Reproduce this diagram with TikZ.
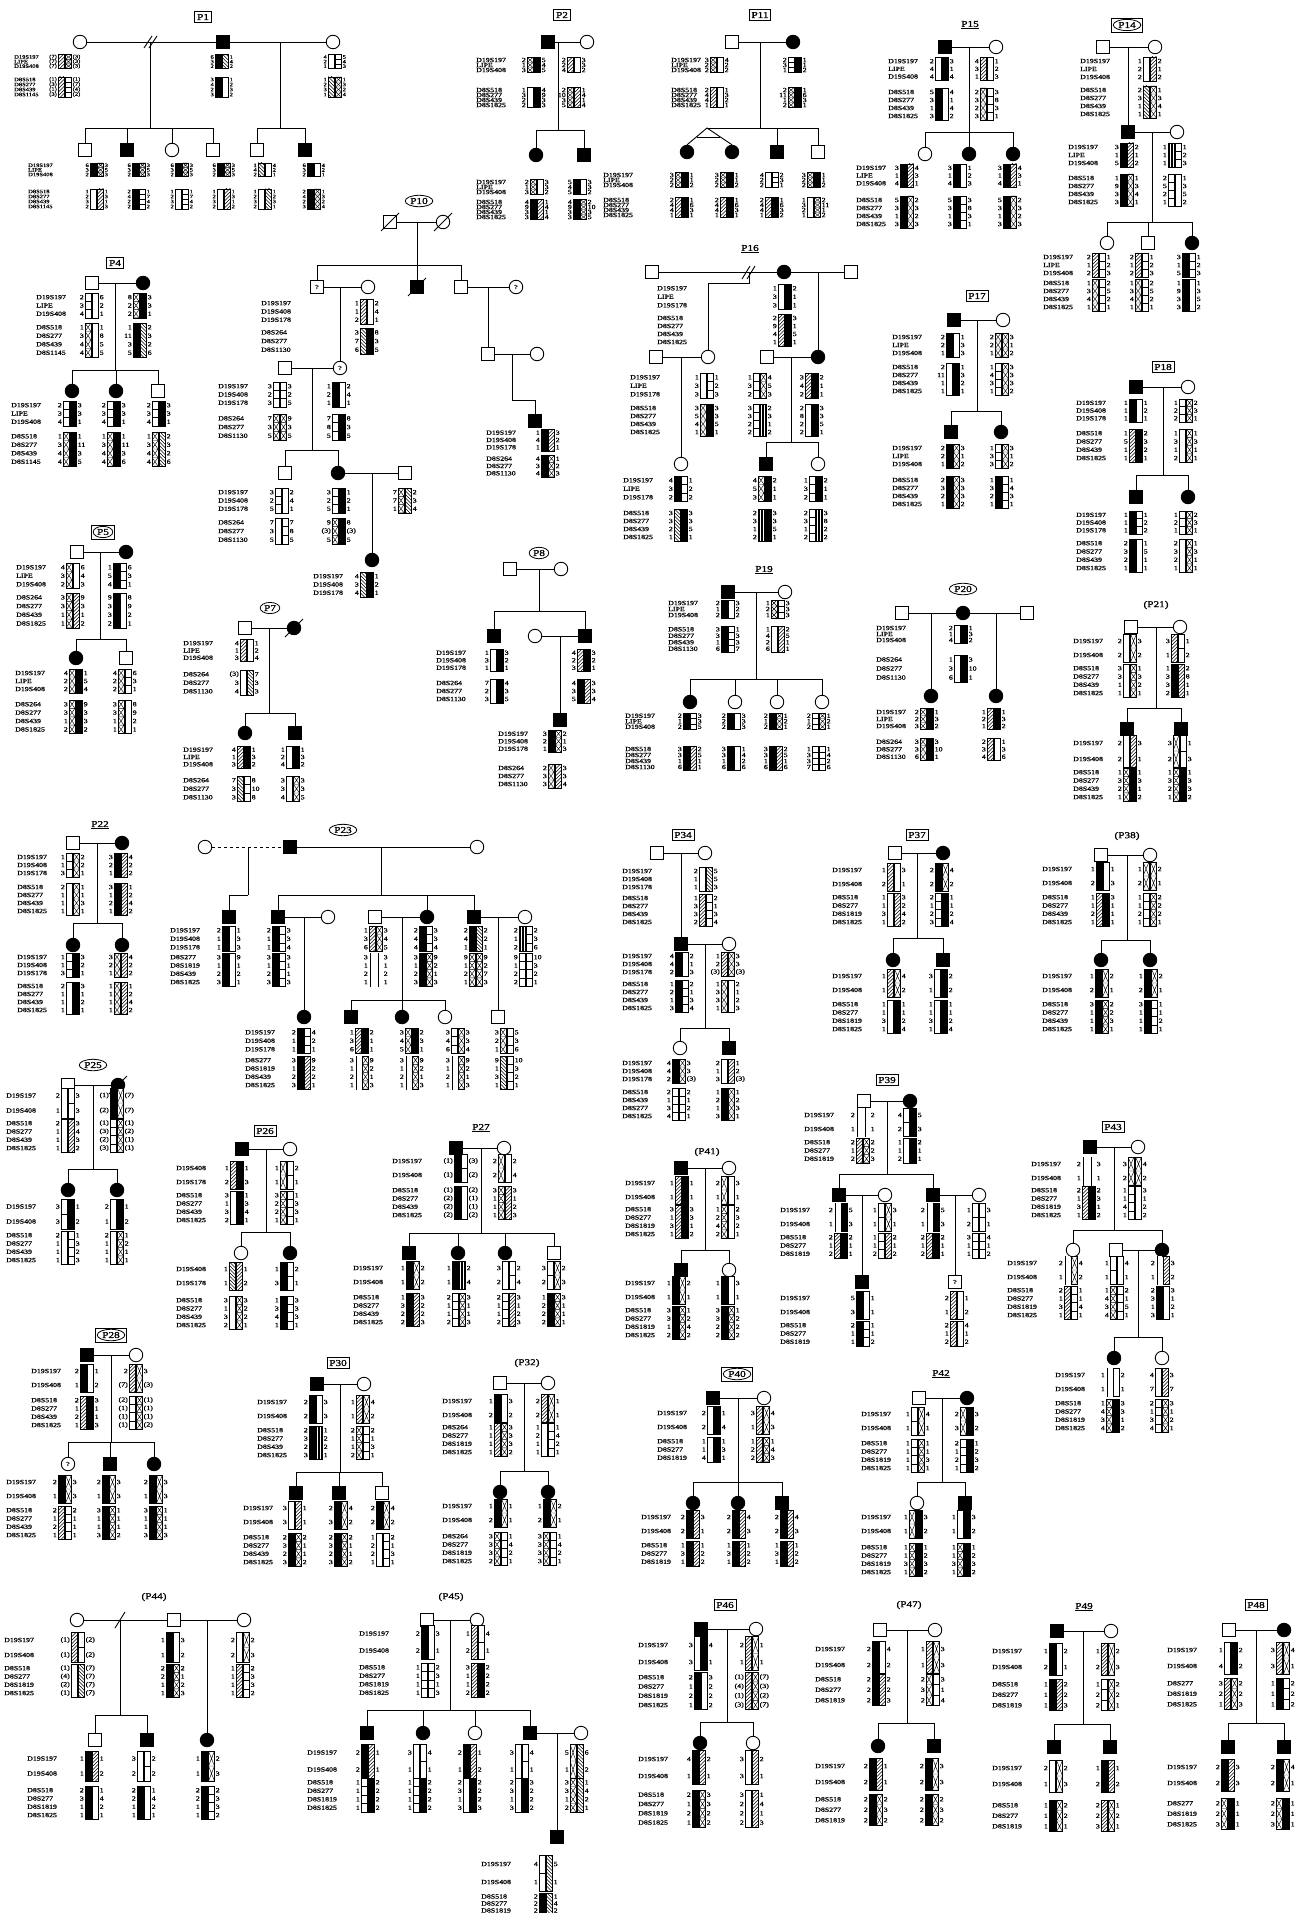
\documentclass[tikz,border=0pt]{standalone}
\usepackage{fontspec}
\setmainfont{Liberation Serif}
\newfontfamily\lf[FakeStretch=1.25,FakeBold=1.2]{Liberation Serif}
\usetikzlibrary{shapes.geometric,fit}
\def\bw{6}\def\bg{1.5}\def\ra{8}\def\rb{8}\def\rh{8}\def\nr{1}
\def\mA{D19S197,LIPE,D19S408}
\def\mAb{D19S197,LIPE,D19S178}
\def\mAc{D19S197,D19S408,D19S178}
\def\mAd{D19S197,D19S408}
\def\mAe{D19S408,D19S178}
\def\mB{D8S518,D8S277,D8S439,D8S1145}
\def\mC{D8S518,D8S277,D8S439,D8S1825}
\def\mD{D8S264,D8S277,D8S439,D8S1825}
\def\mE{D8S264,D8S277,D8S1130}
\def\mF{D8S518,D8S277,D8S1819,D8S1825}
\def\mG{D8S518,D8S277,D8S1819}
\def\mH{D8S277,D8S1819,D8S439,D8S1825}
\def\mI{D8S518,D8S439,D8S277,D8S1825}
\def\mJ{D8S264,D8S277,D8S1819,D8S1825}
\def\mK{D8S277,D8S1819,D8S1825}
\def\mL{D8S518,D8S277,D8S439,D8S1130}
\tikzset{
 nm/.style={font=\lf\fontsize{6.3}{6.3}\selectfont,inner sep=0pt},
 nms/.style={font=\lf\fontsize{5.2}{5.2}\selectfont,inner sep=0pt},
 ln/.style={line width=.9pt},
 ma/.style={draw,line width=.9pt,fill=white,inner sep=0pt},
 male/.style={ma,rectangle,minimum size=12.5pt},
 fem/.style={ma,circle,minimum size=13.5pt},
 aff/.style={fill=black},
 qm/.style={font=\lf\fontsize{6}{6}\selectfont},
 lbx/.style={draw,line width=.8pt,inner sep=2.2pt,font=\lf\fontsize{9}{9}\selectfont},
 lov/.style={ellipse,draw,line width=.8pt,inner sep=1pt,font=\lf\fontsize{9}{9}\selectfont},
 lpl/.style={inner sep=1pt,font=\lf\fontsize{9}{9}\selectfont},
 bar/.style={draw,line width=.6pt,fill=white},
 stB/.style={bar,fill=black},
 stW/.style={bar},
 stH/.style={bar,path picture={\foreach \k in {-8,-4.5,...,70}{\draw[line width=.45pt] ([shift={(-1,\k)}]path picture bounding box.north west) -- ++(10,-10);}}},
 stK/.style={bar,path picture={\foreach \k in {-12,-8.5,...,70}{\draw[line width=.45pt] ([shift={(-1,\k)}]path picture bounding box.north west) -- ++(10,10);}}},
 stX/.style={bar,path picture={\foreach \k in {0,...,7}{\draw[line width=.45pt] ([shift={(0,\k*\rh)}]path picture bounding box.north west) -- ++(\bw,\rh) ++(0,-\rh) -- ++(-\bw,\rh) ++(0,-\rh) -- ++(\bw,0);}}},
 stE/.style={bar,path picture={\foreach \k in {1,...,7}{\draw[line width=.45pt] ([shift={(0,\k*\rh)}]path picture bounding box.north west) -- ++(\bw,0);}}},
 stV/.style={bar,path picture={\foreach \k in {1.5,3,4.5}{\draw[line width=.35pt] ([shift={(\k,0)}]path picture bounding box.north west) -- ++(0,80);}}},
 stL/.style={draw=none,fill=white,path picture={\draw[line width=.9pt] ([shift={(1.5,0)}]path picture bounding box.north west) -- ++(0,80);}},
}
\def\nmst{nm}
\newcommand\hp[5]{%
 \foreach \n [count=\i] in {#4} {\node[\nmst,anchor=east] at ({#1-1},{#2+(\i-0.5)*\rh}) {\n}; \xdef\nr{\i}}
 \foreach \n [count=\i] in {#5} {\node[\nmst,anchor=west] at ({#1+2*\bw+\bg+1},{#2+(\i-0.5)*\rh}) {\n};}
 \dobars{#1}{#2}#3\relax}
\def\dobars#1#2#3#4\relax{%
 \path[st#3] (#1,#2) rectangle ++(\bw,{\nr*\rh});
 \path[st#4] ({#1+\bw+\bg},#2) rectangle ++(\bw,{\nr*\rh});}
\newcommand\Hi[9]{\def\rh{\ra}\hp{#1}{#2}{#4}{#5}{#6}\def\rh{\rb}\hp{#1}{#3}{#7}{#8}{#9}}
\newcommand\Ho[5]{\def\rh{\ra}\hp{#1}{#2}{#3}{#4}{#5}}
\newcommand\Mk[5]{%
 \def\rh{\ra}\foreach \n [count=\i] in #4 {\node[\nmst,anchor=west] at ({#1},{#2+(\i-0.5)*\rh}) {\n};}
 \def\rh{\rb}\foreach \n [count=\i] in #5 {\node[\nmst,anchor=west] at ({#1},{#3+(\i-0.5)*\rh}) {\n};}}
\newcommand\Mo[3]{\def\rh{\ra}\foreach \n [count=\i] in #3 {\node[\nmst,anchor=west] at ({#1},{#2+(\i-0.5)*\rh}) {\n};}}
\newcommand\sib[4]{\draw[ln] (#1,0 |- #2) -- (#1,#3);
 \foreach \c in {#4} {\draw[ln] (#1,#3) -| (\c.north);}}
\newcommand\dead[1]{\draw[ln] ([shift={(-9,9)}]#1.center) -- ([shift={(9,-9)}]#1.center);}
\begin{document}
\begin{tikzpicture}[x=1pt,y=-1pt]
\fill[white] (0,0) rectangle (1306,1913);
\useasboundingbox (0,0) rectangle (1306,1913);

%% ================= P1
\def\nmst{nms}
\def\ra{4.6}\def\rb{5}
\node[lbx] (L1) at (203,17) {P1};
\node[fem] (p1a) at (80,42) {}; \node[male,aff] (p1b) at (223,42) {}; \node[fem] (p1c) at (333,42) {};
\draw[ln] (p1a) -- (p1b) -- (p1c);
\draw[ln] (144,48) -- (152,36) (149,48) -- (157,36);
\Mk{14}{54.7}{77}{\mA}{\mB}
\Hi{58}{54.7}{77}{HX}{(7),(7),(7)}{(3),(3),(3)}{HE}{(1),(3),(1),(3)}{(1),(7),(4),(2)}
\Hi{215}{54.7}{77}{BK}{6,3,2}{1,4,2}{BW}{3,4,2,3}{1,2,3,2}
\Hi{328}{54.7}{77}{WE}{4,2,1}{5,4,3}{KX}{1,2,3,1}{1,3,2,4}
\node[male] (p1d) at (85,150) {}; \node[male,aff] (p1e) at (127,150) {}; \node[fem] (p1f) at (172,150) {};
\node[male] (p1g) at (213,150) {}; \node[male] (p1h) at (257,150) {}; \node[male,aff] (p1i) at (305,150) {};
\sib{150}{p1b}{128}{p1d,p1e,p1f,p1g}
\sib{280}{p1b}{128}{p1h,p1i}
\Mk{28}{163}{189}{\mA}{\mB}
\Hi{90}{163}{189}{BX}{6,3,2}{3,5,3}{WH}{1,2,3,2}{1,3,1,3}
\Hi{132}{163}{189}{BX}{6,3,2}{3,5,3}{BE}{2,4,2,2}{1,7,4,2}
\Hi{175}{163}{189}{BX}{6,3,2}{3,5,3}{WE}{1,2,3,2}{1,7,4,2}
\Hi{217}{163}{189}{BX}{6,3,2}{3,5,3}{WH}{1,2,3,2}{1,3,1,2}
\Hi{258}{163}{189}{KW}{1,4,2}{4,2,1}{WK}{1,2,3,2}{1,2,3,1}
\Hi{307}{163}{189}{BW}{6,3,2}{4,2,1}{BX}{2,4,2,3}{1,3,2,4}
\def\nmst{nm}

%% ================= P2
\def\ra{5}\def\rb{5}
\node[lbx] (L2) at (562,15) {P2};
\node[male,aff] (p2a) at (548,42) {}; \node[fem] (p2b) at (587,42) {};
\draw[ln] (p2a) -- (p2b);
\Mk{476}{57.5}{87.5}{\mA}{\mC}
\Hi{527}{57.5}{87.5}{XB}{2,1,3}{5,4,5}{WB}{1,3,2,2}{4,9,3,3}
\Hi{567}{57.5}{87.5}{HW}{2,2,4}{3,3,2}{XH}{2,10,3,5}{1,4,1,4}
\node[fem,aff] (p2c) at (536,155) {}; \node[male,aff] (p2d) at (584,155) {};
\sib{558}{p2a}{130}{p2c,p2d}
\Mk{476}{179.5}{199.5}{\mA}{\mC}
\Hi{530}{179.5}{199.5}{XW}{2,1,3}{3,3,2}{BH}{4,9,3,3}{1,4,1,4}
\Hi{573}{179.5}{199.5}{BW}{5,4,5}{3,3,2}{BX}{4,9,3,3}{2,10,3,5}

%% ================= P11
\node[lbx] (L11) at (760,15) {P11};
\node[male] (p11a) at (732,42) {}; \node[fem,aff] (p11b) at (793,42) {};
\draw[ln] (p11a) -- (p11b);
\Mk{671}{57.5}{87.5}{\mA}{\mC}
\Hi{710}{57.5}{87.5}{XW}{3,2,2}{4,2,2}{HW}{2,4,4,1}{1,3,2,1}
\Hi{788}{57.5}{87.5}{EB}{2,3,1}{1,1,2}{XB}{2,11,1,2}{1,6,3,1}
\node[fem,aff] (p11c) at (687,152) {}; \node[fem,aff] (p11d) at (732,152) {};
\node[male,aff] (p11e) at (777,152) {}; \node[male] (p11f) at (818,152) {};
\sib{760}{p11a}{128}{p11e,p11f}
\draw[ln] (760,128) -- (707,128);
\draw[ln] (p11c.north) -- (707,128) -- (p11d.north);
\draw[ln] (697,137) -- (720,137);
\Mk{603}{172.5}{197.5}{\mA}{\mC}
\Hi{675}{172.5}{197.5}{XB}{3,2,2}{1,1,2}{HB}{2,4,4,1}{1,6,3,1}
\Hi{720}{172.5}{197.5}{XB}{3,2,2}{1,1,2}{HB}{2,4,4,1}{1,6,3,1}
\Hi{765}{172.5}{197.5}{WE}{4,2,2}{2,3,1}{HB}{2,4,4,1}{1,6,3,2}
\Hi{807}{172.5}{197.5}{XB}{3,2,2}{1,1,2}{WX}{1,3,2,1}{2,11,1,2}

%% ================= P15
\def\ra{7.7}\def\rb{8}
\node[lpl] (L15) at (970,25) {\underline{P15}};
\node[male,aff] (p15a) at (945,47) {}; \node[fem] (p15b) at (996,47) {};
\draw[ln] (p15a) -- (p15b);
\Mk{888}{57.3}{88}{\mA}{\mC}
\Hi{935}{57.3}{88}{WB}{2,4,4}{3,1,4}{BW}{5,3,1,3}{4,1,4,2}
\Hi{980}{57.3}{88}{HW}{4,3,1}{1,2,3}{XE}{2,3,2,3}{3,8,3,1}
\node[fem] (p15c) at (925,154) {}; \node[fem,aff] (p15d) at (969,154) {}; \node[fem,aff] (p15e) at (1013,154) {};
\sib{969}{p15a}{132}{p15c,p15d,p15e}
\Mk{856}{164}{196}{\mA}{\mC}
\Hi{900}{164}{196}{BH}{3,1,4}{4,3,1}{BX}{5,3,1,3}{2,3,2,3}
\Hi{953}{164}{196}{BW}{3,1,4}{1,2,3}{BE}{5,3,1,3}{3,8,3,1}
\Hi{1003}{164}{196}{BH}{3,1,4}{4,3,1}{BX}{5,3,1,3}{2,3,2,3}

%% ================= P14
\def\ra{8}\def\rb{8}
\node[lov] (L14) at (1127,25) {P14}; \node[draw,line width=.8pt,fit=(L14),inner sep=1pt] (L14b) {};
\node[male] (p14a) at (1103,47) {}; \node[fem] (p14b) at (1155,47) {};
\draw[ln] (p14a) -- (p14b);
\Mk{1080}{57}{86}{\mA}{\mC}
\Hi{1143}{57}{86}{WH}{1,2,2}{2,1,2}{KX}{2,3,1,1}{1,3,4,1}
\node[male,aff] (p14c) at (1128,132) {}; \node[fem] (p14d) at (1177,132) {};
\draw[ln] (p14c) -- (p14d);
\sib{1128}{p14a}{120}{p14c}
\Mk{1068}{143}{174}{\mA}{\mC}
\Hi{1120}{143}{174}{BH}{3,1,5}{2,1,2}{BX}{1,9,3,3}{1,3,4,1}
\Hi{1168}{143}{174}{VE}{1,1,1}{1,2,3}{EW}{2,5,2,1}{1,3,5,2}
\node[fem] (p14e) at (1107,243) {}; \node[male] (p14f) at (1148,243) {}; \node[fem,aff] (p14g) at (1192,243) {};
\sib{1152}{p14c}{222}{p14e,p14f,p14g}
\Mk{1043}{253}{279}{\mA}{\mC}
\Hi{1092}{253}{279}{HE}{2,1,2}{1,2,3}{XE}{1,3,4,1}{2,5,2,1}
\Hi{1135}{253}{279}{HE}{2,1,2}{1,2,3}{XE}{1,3,4,1}{2,5,2,1}
\Hi{1182}{253}{279}{BE}{3,1,5}{1,2,3}{BW}{1,9,3,3}{1,3,5,2}

%% ================= P4
\def\ra{8.3}\def\rb{8.5}
\node[lbx] (L4) at (115,263) {P4};
\node[male] (p4a) at (92,283) {}; \node[fem,aff] (p4b) at (143,283) {};
\draw[ln] (p4a) -- (p4b);
\Mk{36}{293}{323}{\mA}{\mB}
\Hi{85}{293}{323}{EW}{2,3,4}{6,2,1}{XW}{1,3,4,4}{1,8,5,5}
\Hi{133}{293}{323}{XB}{8,2,2}{3,3,1}{BK}{1,11,3,5}{2,3,2,6}
\node[fem,aff] (p4c) at (72,391) {}; \node[fem,aff] (p4d) at (116,391) {}; \node[male] (p4e) at (158,391) {};
\sib{115}{p4a}{370}{p4c,p4d,p4e}
\Mk{11}{401}{432}{\mA}{\mB}
\Hi{63}{401}{432}{EB}{2,3,4}{3,3,1}{XB}{1,3,4,4}{1,11,3,5}
\Hi{107}{401}{432}{EB}{2,3,4}{3,3,1}{XB}{1,3,4,4}{1,11,3,6}
\Hi{152}{401}{432}{EB}{2,3,4}{3,3,1}{XK}{1,3,4,4}{2,3,2,6}

%% ================= P10
\def\ra{8.3}\def\rb{8.7}
\node[lov] (L10) at (419,201) {P10};
\node[male] (p10a) at (390,222) {}; \node[fem] (p10b) at (443,222) {};
\draw[ln] (p10a) -- (p10b); \dead{p10a} \dead{p10b}
\node[male,qm] (p10c) at (317,287) {?}; \node[male,aff] (p10d) at (417,287) {}; \dead{p10d}
\node[male] (p10e) at (461,287) {}; \node[fem] (p10f) at (368,287) {}; \node[fem,qm] (p10m) at (516,287) {?};
\sib{417}{p10a}{265}{p10c,p10d,p10e}
\draw[ln] (p10c) -- (p10f); \draw[ln] (p10e) -- (p10m);
\Mk{261}{299}{328}{\mAc}{\mE}
\Ho{360}{299}{HW}{1,1,2}{2,4,1}
\def\rh{\rb}\hp{360}{328}{KB}{3,7,6}{8,3,5}
\node[male] (p10h) at (285,368) {}; \node[fem,qm] (p10g) at (340,368) {?};
\draw[ln] (p10h) -- (p10g);
\sib{340}{p10c}{340}{p10g}
\Mk{218}{382}{414}{\mAc}{\mE}
\Hi{273}{382}{414}{EE}{3,2,3}{3,2,5}{XX}{7,3,5}{9,3,5}
\Hi{332}{382}{414}{BW}{1,2,1}{2,4,1}{EB}{7,8,5}{8,3,5}
\node[male] (p10i) at (285,473) {}; \node[fem,aff] (p10j) at (338,473) {}; \node[male] (p10k) at (405,473) {};
\sib{312}{p10h}{450}{p10i,p10j}
\draw[ln] (p10j) -- (p10k);
\Mk{218}{488}{518}{\mAc}{\mE}
\Hi{275}{488}{518}{EW}{3,2,5}{2,4,1}{WE}{7,3,5}{7,8,5}
\Hi{332}{488}{518}{EB}{3,2,5}{1,2,1}{XB}{9,(3),5}{8,(3),5}
\Ho{398}{488}{XK}{7,7,1}{2,3,4}
\node[fem,aff] (p10l) at (372,560) {};
\sib{372}{p10j}{540}{p10l}
\Mo{313}{572}{\mAc}
\Ho{360}{572}{KB}{4,3,4}{1,2,1}
\node[male] (p10n) at (488,354) {}; \node[fem] (p10o) at (537,354) {};
\draw[ln] (p10n) -- (p10o);
\sib{488}{p10e}{330}{p10n}
\node[male,aff] (p10p) at (535,421) {};
\sib{512}{p10n}{400}{p10p}
\def\ra{7.3}\def\rb{7.3}
\Mk{486}{429}{455}{\mAc}{\mE}
\Hi{541}{429}{455}{BH}{1,4,1}{3,2,1}{BX}{4,3,4}{1,2,3}

%% ================= P5
\def\ra{8.5}\def\rb{8.7}
\node[lov] (L5) at (103,532) {P5}; \node[draw,line width=.8pt,fit=(L5),inner sep=1pt] (L5b) {};
\node[male] (p5a) at (77,552) {}; \node[fem,aff] (p5b) at (126,552) {};
\draw[ln] (p5a) -- (p5b);
\Mk{16}{563}{593}{\mA}{\mD}
\Hi{66}{563}{593}{XW}{4,3,2}{6,4,3}{XH}{3,3,1,1}{9,3,1,2}
\Hi{113}{563}{593}{BE}{1,5,4}{6,3,1}{BW}{9,3,3,2}{8,9,2,1}
\node[fem,aff] (p5c) at (76,658) {}; \node[male] (p5d) at (126,658) {};
\sib{100}{p5a}{639}{p5c,p5d}
\def\ra{8}\def\rb{8.4}
\Mk{15}{669}{700}{\mA}{\mD}
\Hi{69}{669}{700}{XB}{4,2,2}{1,5,4}{XB}{3,3,1,2}{9,3,3,2}
\Hi{118}{669}{700}{XE}{4,2,2}{6,3,1}{XW}{3,3,1,1}{8,9,2,1}

%% ================= P7
\def\ra{7.3}\def\rb{8.5}
\node[lov] (L7) at (270,608) {P7};
\node[male] (p7a) at (245,628) {}; \node[fem,aff] (p7b) at (294,628) {}; \dead{p7b}
\draw[ln] (p7a) -- (p7b);
\Mk{183}{639.5}{670}{\mA}{\mE}
\Hi{240}{639.5}{670}{HW}{4,1,3}{1,2,4}{WK}{(3),3,4}{7,3,3}
\node[fem,aff] (p7c) at (245,733) {}; \node[male,aff] (p7d) at (295,733) {};
\sib{269}{p7a}{713}{p7c,p7d}
\Mk{183}{746}{776}{\mA}{\mE}
\Hi{237}{746}{776}{HB}{4,1,3}{1,3,2}{KE}{7,3,3}{8,10,8}
\Hi{286}{746}{776}{WB}{1,2,4}{1,3,2}{WX}{3,3,4}{3,3,5}

%% ================= P8
\def\ra{7.5}\def\rb{8}
\node[lov] (L8) at (539,553) {P8};
\node[male] (p8a) at (510,569) {}; \node[fem] (p8b) at (561,569) {};
\draw[ln] (p8a) -- (p8b);
\node[male,aff] (p8c) at (494,636) {}; \node[fem] (p8d) at (535,636) {}; \node[male,aff] (p8e) at (585,636) {};
\sib{539}{p8a}{611}{p8c,p8e}
\draw[ln] (p8d) -- (p8e);
\Mk{436}{649}{679}{\mAc}{\mE}
\Hi{490}{649}{679}{WB}{1,3,1}{3,2,1}{WB}{7,2,3}{4,3,5}
\Hi{577}{649}{679}{HB}{4,2,3}{3,2,1}{BH}{4,3,5}{3,3,4}
\node[male,aff] (p8f) at (560,720) {};
\sib{560}{p8d}{700}{p8f}
\Mk{498}{730}{764}{\mAc}{\mE}
\Hi{548}{730}{764}{BX}{3,2,1}{2,1,3}{XH}{2,3,3}{3,3,4}

%% ================= P16
\def\ra{8.5}\def\rb{8}
\node[lpl] (L16) at (750,249) {\underline{P16}};
\node[male] (p16a) at (652,272) {}; \node[fem,aff] (p16b) at (784,272) {}; \node[male] (p16c) at (851,272) {};
\draw[ln] (p16a) -- (p16b) -- (p16c);
\draw[ln] (742,279) -- (750,266) (747,279) -- (755,266);
\node[male] (p16d) at (656,357) {}; \node[fem] (p16e) at (708,357) {}; \node[male] (p16f) at (767,357) {}; \node[fem,aff] (p16g) at (818,357) {};
\draw[ln] (749,272) -- (749,283) -| (p16e.north);
\sib{818}{p16b}{330}{p16g}
\draw[ln] (p16d) -- (p16e); \draw[ln] (p16f) -- (p16g);
\Mk{657}{284}{314}{\mAb}{\mC}
\Hi{778}{284}{314}{WB}{1,3,3}{2,1,1}{HB}{2,9,4,1}{3,1,5,1}
\Mk{630}{373}{404}{\mAb}{\mC}
\Hi{700}{373}{404}{WE}{1,3,3}{1,2,3}{XB}{3,5,4,1}{3,3,5,1}
\Hi{753}{373}{404}{EX}{1,3,2}{4,5,3}{EV}{3,3,2,2}{2,3,1,2}
\Hi{805}{373}{404}{HB}{3,4,2}{2,1,1}{WB}{2,8,2,2}{3,3,5,1}
\node[fem] (p16h) at (681,464) {}; \node[male,aff] (p16i) at (766,464) {}; \node[fem] (p16j) at (818,464) {};
\sib{681}{p16d}{440}{p16h}
\sib{791}{p16f}{442}{p16i,p16j}
\Mk{623}{476}{509}{\mAb}{\mC}
\Hi{674}{476}{509}{BE}{4,3,2}{1,2,2}{KB}{3,3,2,1}{3,3,5,1}
\Hi{758}{476}{509}{XB}{4,5,3}{2,1,1}{VB}{2,3,1,2}{3,3,5,1}
\Hi{809}{476}{509}{EB}{1,3,2}{2,1,1}{EV}{2,3,1,2}{3,8,2,2}

%% ================= P17
\def\ra{8}\def\rb{8}
\node[lbx] (L17) at (977,296) {P17};
\node[male,aff] (p17a) at (954,320) {}; \node[fem] (p17b) at (1003,320) {};
\draw[ln] (p17a) -- (p17b);
\Mk{892}{333}{363}{\mA}{\mC}
\Hi{946}{333}{363}{BW}{2,2,1}{1,3,3}{WB}{2,11,1,1}{1,3,2,1}
\Hi{995}{333}{363}{XX}{2,2,1}{3,1,2}{EX}{1,4,3,1}{3,3,3,2}
\node[male,aff] (p17c) at (951,432) {}; \node[fem,aff] (p17d) at (1001,432) {};
\sib{977}{p17a}{411}{p17c,p17d}
\Mk{892}{444}{476}{\mA}{\mC}
\Hi{946}{444}{476}{BX}{2,2,1}{3,1,2}{BX}{2,3,2,1}{3,3,3,2}
\Hi{995}{444}{476}{EX}{1,3,3}{3,1,2}{BE}{1,3,2,1}{1,4,3,1}

%% ================= P18
\def\ra{7.7}\def\rb{8.3}
\node[lbx] (L18) at (1163,367) {P18};
\node[male,aff] (p18a) at (1136,387) {}; \node[fem] (p18b) at (1188,387) {};
\draw[ln] (p18a) -- (p18b);
\Mk{1076}{399}{429}{\mAc}{\mC}
\Hi{1129}{399}{429}{BW}{1,1,1}{1,2,1}{HB}{1,5,1,1}{2,3,2,1}
\Hi{1179}{399}{429}{EX}{1,2,2}{2,3,1}{WX}{1,3,1,2}{1,3,1,1}
\node[male,aff] (p18c) at (1136,497) {}; \node[fem,aff] (p18d) at (1188,497) {};
\sib{1163}{p18a}{475}{p18c,p18d}
\Mk{1076}{511}{539}{\mAc}{\mC}
\Hi{1129}{511}{539}{BE}{1,1,1}{1,2,2}{BW}{2,3,2,1}{1,5,1,1}
\Hi{1179}{511}{539}{EX}{1,2,1}{2,3,1}{WX}{2,3,2,1}{1,3,1,1}

%% ================= P19
\def\ra{6}\def\rb{6.5}
\node[lpl] (L19) at (764,570) {\underline{P19}};
\node[male,aff] (p19a) at (728,592) {}; \node[fem] (p19b) at (785,592) {};
\draw[ln] (p19a) -- (p19b);
\Mk{668}{600}{626}{\mA}{\mL}
\Hi{721}{600}{626}{BW}{2,1,2}{3,2,2}{BE}{3,3,1,6}{1,3,3,7}
\Hi{771}{600}{626}{XE}{1,2,1}{3,3,3}{WH}{1,4,2,6}{2,5,1,1}
\node[fem,aff] (p19c) at (690,702) {}; \node[fem] (p19d) at (735,702) {}; \node[fem] (p19e) at (777,702) {}; \node[fem] (p19f) at (822,702) {};
\sib{756}{p19a}{679}{p19c,p19d,p19e,p19f}
\def\ra{5.5}\def\rb{6}
\Mk{625}{713}{746}{\mA}{\mL}
\Hi{683}{713}{746}{BE}{2,1,2}{3,3,5}{BH}{3,3,1,6}{2,5,1,1}
\Hi{727}{713}{746}{BW}{2,2,2}{3,3,3}{BW}{3,3,1,6}{1,4,2,6}
\Hi{769}{713}{746}{BX}{2,1,2}{1,2,1}{BH}{3,3,1,6}{2,5,1,6}
\Hi{812}{713}{746}{EX}{2,1,2}{1,2,1}{EE}{1,3,3,7}{1,4,2,6}

%% ================= P20
\def\ra{6}\def\rb{9}
\node[lov] (L20) at (963,589) {P20};
\node[male] (p20a) at (902,613) {}; \node[fem,aff] (p20b) at (963,613) {}; \node[male] (p20c) at (1027,613) {};
\draw[ln] (p20a) -- (p20b) -- (p20c);
\Mk{876}{625}{655}{\mA}{\mE}
\Hi{954}{625}{655}{WB}{2,1,4}{1,3,2}{WB}{1,3,6}{3,10,1}
\node[fem,aff] (p20d) at (931,696) {}; \node[fem,aff] (p20e) at (996,696) {};
\sib{931}{p20a}{680}{p20d}
\sib{996}{p20b}{680}{p20e}
\def\ra{7}\def\rb{7.5}
\Mk{876}{708.5}{738}{\mA}{\mE}
\Hi{920}{708.5}{738}{XB}{2,2,3}{1,3,2}{XB}{3,3,6}{3,10,1}
\Hi{987}{708.5}{738}{HB}{1,2,1}{1,3,2}{HW}{2,3,4}{1,3,6}

%% ================= P21
\def\ra{14}\def\rb{8.3}
\node[lpl] (L21) at (1156,605) {(P21)};
\node[male] (p21a) at (1131,627) {}; \node[fem] (p21b) at (1180,627) {};
\draw[ln] (p21a) -- (p21b);
\Mk{1073}{634}{664}{\mAd}{\mC}
\Hi{1123}{634}{664}{WX}{2,2}{3,2}{WX}{3,3,1,1}{1,3,2,1}
\Hi{1171}{634}{664}{HE}{3,1}{1,2}{BH}{1,3,3,2}{2,8,1,1}
\node[male,aff] (p21c) at (1127,729) {}; \node[male,aff] (p21d) at (1181,729) {};
\sib{1156}{p21a}{708}{p21c,p21d}
\def\ra{16}
\Mk{1073}{735}{768}{\mAd}{\mC}
\Hi{1123}{735}{768}{WH}{2,2}{3,1}{XB}{1,3,2,1}{1,3,1,2}
\Hi{1173}{735}{768}{XE}{3,2}{1,3}{XB}{1,3,2,1}{1,3,3,2}

%% ================= P22
\def\ra{8}\def\rb{8}
\node[lpl] (L22) at (100,825) {\underline{P22}};
\node[male] (p22a) at (73,843) {}; \node[fem,aff] (p22b) at (122,843) {};
\draw[ln] (p22a) -- (p22b);
\Mk{17}{853}{883}{\mAc}{\mC}
\Hi{66}{853}{883}{EX}{1,1,3}{2,2,1}{WX}{2,1,1,1}{1,1,3,1}
\Hi{114}{853}{883}{BH}{3,2,1}{4,2,2}{BH}{3,1,2,1}{1,2,4,2}
\node[fem,aff] (p22c) at (73,945) {}; \node[fem,aff] (p22d) at (122,945) {};
\sib{97}{p22a}{923}{p22c,p22d}
\Mk{17}{953}{982}{\mAc}{\mC}
\Hi{66}{953}{982}{EB}{1,1,3}{3,2,1}{WB}{2,1,1,1}{3,1,2,1}
\Hi{114}{953}{982}{XH}{3,2,1}{4,2,2}{XH}{1,1,1,1}{1,2,4,2}

%% ================= P23
\def\ra{8.5}\def\rb{8.3}
\node[lov] (L23) at (343,830) {P23};
\node[fem] (p23a) at (205,847) {}; \node[male,aff] (p23b) at (290,847) {}; \node[fem] (p23c) at (477,847) {};
\draw[ln,dashed] (p23a) -- (p23b); \draw[ln] (p23b) -- (p23c);
\node[male,aff] (p23d) at (229,917) {}; \node[male,aff] (p23e) at (278,917) {}; \node[fem] (p23f) at (328,917) {};
\node[male] (p23g) at (375,917) {}; \node[fem,aff] (p23h) at (427,917) {}; \node[male,aff] (p23i) at (474,917) {}; \node[fem] (p23j) at (525,917) {};
\sib{248}{p23a}{895}{p23d}
\sib{381}{p23b}{895}{p23e,p23h,p23i}
\draw[ln] (p23e) -- (p23f); \draw[ln] (p23g) -- (p23h); \draw[ln] (p23i) -- (p23j);
\Mk{170}{926}{953}{\mAc}{\mH}
\Hi{222}{926}{953}{BW}{2,1,1}{1,3,3}{BW}{3,1,2,3}{9,1,2,1}
\Hi{272}{926}{953}{BE}{2,1,1}{3,3,4}{BE}{3,1,2,3}{3,1,1,3}
\Hi{369}{926}{953}{HX}{1,3,6}{3,4,5}{LL}{3,1,2,1}{3,1,2,1}
\Hi{419}{926}{953}{BE}{2,4,4}{3,3,4}{BX}{3,1,2,3}{9,2,1,3}
\Hi{469}{926}{953}{BK}{2,4,1}{2,2,1}{XX}{9,1,2,1}{9,2,7,3}
\Hi{519}{926}{953}{VE}{2,1,2}{2,3,6}{EE}{9,1,2,2}{10,3,2,1}
\node[fem,aff] (p23k) at (304,1017) {}; \node[male,aff] (p23l) at (351,1017) {}; \node[fem,aff] (p23m) at (402,1017) {};
\node[fem] (p23n) at (445,1017) {}; \node[male] (p23o) at (498,1017) {};
\sib{304}{p23e}{1000}{p23k}
\sib{402}{p23g}{1000}{p23l,p23m,p23n}
\sib{498}{p23i}{1000}{p23o}
\Mk{245}{1028}{1056}{\mAc}{\mH}
\Hi{297}{1028}{1056}{BE}{2,1,1}{4,2,1}{BH}{3,1,2,3}{9,2,2,1}
\Hi{355}{1028}{1056}{HB}{1,3,6}{2,1,1}{LX}{3,1,2,1}{9,2,1,3}
\Hi{405}{1028}{1056}{XB}{3,4,5}{2,3,1}{LX}{3,1,2,1}{9,2,1,3}
\Hi{451}{1028}{1056}{EX}{3,4,6}{3,3,4}{LX}{3,1,2,1}{9,2,1,3}
\Hi{500}{1028}{1056}{XE}{3,2,1}{5,3,6}{KE}{9,1,3,1}{10,3,2,1}

%% ================= P34
\def\ra{8}\def\rb{8}
\node[lbx] (L34) at (683,835) {P34};
\node[male] (p34a) at (657,853) {}; \node[fem] (p34b) at (705,853) {};
\draw[ln] (p34a) -- (p34b);
\Mk{622}{867}{894}{\mAc}{\mC}
\Hi{699}{867}{894}{WK}{2,1,1}{5,5,3}{HE}{1,3,3,2}{2,1,3,4}
\node[male,aff] (p34c) at (681,944) {}; \node[fem] (p34d) at (729,944) {};
\sib{681}{p34a}{930}{p34c}
\draw[ln] (p34c) -- (p34d);
\Mk{622}{952}{980}{\mAc}{\mC}
\Hi{675}{952}{980}{BW}{4,4,2}{2,1,3}{BE}{1,2,1,3}{2,1,3,4}
\Hi{721}{952}{980}{HX}{1,2,(3)}{3,3,(3)}{XW}{1,3,3,1}{2,1,2,3}
\node[fem] (p34e) at (680,1048) {}; \node[male,aff] (p34f) at (729,1048) {};
\sib{705}{p34c}{1028}{p34e,p34f}
\Mk{622}{1059}{1088}{\mAc}{\mI}
\Hi{672}{1059}{1088}{BX}{4,4,2}{3,3,(3)}{EE}{2,1,3,4}{2,1,2,1}
\Hi{721}{1059}{1088}{WH}{2,1,3}{1,2,(3)}{BX}{1,2,1,3}{1,2,3,1}

%% ================= P37
\def\ra{14}\def\rb{8.3}
\node[lbx] (L37) at (917,835) {P37};
\node[male] (p37a) at (895,853) {}; \node[fem,aff] (p37b) at (943,853) {};
\draw[ln] (p37a) -- (p37b);
\Mk{832}{863}{893}{\mAd}{\mF}
\Hi{887}{863}{893}{HW}{1,2}{3,1}{WH}{1,1,3,1}{3,2,4,2}
\Hi{935}{863}{893}{BX}{2,2}{4,2}{EB}{2,1,2,3}{1,1,2,4}
\node[fem,aff] (p37c) at (893,960) {}; \node[male,aff] (p37d) at (943,960) {};
\sib{917}{p37a}{938}{p37c,p37d}
\Mk{832}{969}{1000}{\mAd}{\mF}
\Hi{887}{969}{1000}{HX}{1,1}{4,2}{WB}{1,1,3,1}{1,1,2,4}
\Hi{934}{969}{1000}{WB}{3,1}{2,2}{WB}{1,1,3,1}{1,1,2,4}

%% ================= P38
\node[lpl] (L38) at (1127,836) {(P38)};
\node[male] (p38a) at (1101,855) {}; \node[fem] (p38b) at (1150,855) {};
\draw[ln] (p38a) -- (p38b);
\Mk{1042}{862}{893}{\mAd}{\mC}
\Hi{1096}{862}{893}{BW}{1,2}{1,3}{HB}{1,1,2,1}{3,1,1,1}
\Hi{1143}{862}{893}{XX}{1,2}{2,1}{EX}{1,1,2,1}{2,2,2,1}
\node[fem,aff] (p38c) at (1101,960) {}; \node[fem,aff] (p38d) at (1150,960) {};
\sib{1127}{p38a}{940}{p38c,p38d}
\Mk{1042}{969}{1000}{\mAd}{\mC}
\Hi{1095}{969}{1000}{BX}{1,2}{2,1}{BX}{3,1,1,1}{2,2,3,1}
\Hi{1144}{969}{1000}{BX}{1,2}{2,1}{BE}{3,1,1,1}{1,1,2,1}

%% ================= P25
\def\ra{15}\def\rb{8.3}
\node[lov] (L25) at (93,1065) {P25};
\node[male] (p25a) at (68,1085) {}; \node[fem,aff] (p25b) at (118,1085) {}; \dead{p25b}
\draw[ln] (p25a) -- (p25b);
\Mk{6}{1088}{1119}{\mAd}{\mC}
\Hi{61}{1088}{1119}{WE}{2,1}{3,3}{WH}{2,1,1,1}{3,4,3,2}
\Hi{110}{1088}{1119}{BX}{(1),(2)}{(7),(7)}{EX}{(1),(3),(2),(3)}{(1),(2),(1),(1)}
\node[fem,aff] (p25c) at (68,1190) {}; \node[fem,aff] (p25d) at (117,1190) {};
\sib{93}{p25a}{1169}{p25c,p25d}
\Mk{6}{1199}{1231}{\mAd}{\mC}
\Hi{61}{1199}{1231}{EB}{3,3}{1,2}{WE}{2,1,1,1}{1,3,2,3}
\Hi{110}{1199}{1231}{WB}{2,1}{1,2}{WX}{2,1,1,1}{1,2,1,1}

%% ================= P26
\def\ra{14}\def\rb{8.3}
\node[lbx] (L26) at (265,1131) {P26};
\node[male,aff] (p26a) at (242,1149) {}; \node[fem] (p26b) at (290,1149) {};
\draw[ln] (p26a) -- (p26b);
\Mk{176}{1161}{1191}{\mAe}{\mC}
\Hi{230}{1161}{1191}{HB}{1,2}{1,3}{WB}{3,1,3,2}{1,3,4,1}
\Hi{280}{1161}{1191}{XE}{1,1}{2,1}{XE}{3,2,2,1}{1,3,3,1}
\node[fem] (p26c) at (241,1253) {}; \node[fem,aff] (p26d) at (290,1253) {};
\sib{266}{p26a}{1232}{p26c,p26d}
\Mk{176}{1262}{1296}{\mAe}{\mC}
\Hi{229}{1262}{1296}{KH}{1,1}{1,2}{WX}{3,1,3,2}{3,2,2,1}
\Hi{280}{1262}{1296}{BE}{1,3}{2,1}{BE}{1,3,4,1}{3,3,3,1}

%% ================= P27
\node[lpl] (L27) at (481,1128) {\underline{P27}};
\node[male,aff] (p27a) at (456,1148) {}; \node[fem] (p27b) at (504,1148) {};
\draw[ln] (p27a) -- (p27b);
\Mk{392}{1154}{1186}{\mAd}{\mC}
\Hi{454}{1154}{1186}{BE}{(1),(1)}{(3),(2)}{BW}{(1),(2),(2),(2)}{(2),(1),(1),(2)}
\Hi{498}{1154}{1186}{XW}{2,2}{2,4}{XH}{3,1,1,1}{3,1,2,3}
\node[male,aff] (p27c) at (409,1253) {}; \node[fem,aff] (p27d) at (458,1253) {}; \node[fem,aff] (p27e) at (505,1253) {}; \node[male] (p27f) at (554,1253) {};
\sib{481}{p27a}{1233}{p27c,p27d,p27e,p27f}
\Mk{353}{1261}{1293}{\mAd}{\mC}
\Hi{406}{1261}{1293}{BX}{1,1}{2,2}{BH}{1,3,2,2}{3,2,2,3}
\Hi{452}{1261}{1293}{BV}{1,1}{2,4}{EX}{2,1,1,2}{3,1,1,3}
\Hi{502}{1261}{1293}{WE}{3,2}{2,4}{EH}{2,1,1,2}{3,1,2,3}
\Hi{547}{1261}{1293}{EX}{3,2}{2,3}{BX}{1,2,2,2}{3,1,1,1}

%% ================= P28
\node[lov] (L28) at (111,1335) {P28}; \node[draw,line width=.8pt,fit=(L28),inner sep=1pt] (L28b) {};
\node[male,aff] (p28a) at (87,1355) {}; \node[fem] (p28b) at (136,1355) {};
\draw[ln] (p28a) -- (p28b);
\Mk{31}{1364}{1396}{\mAd}{\mC}
\Hi{80}{1364}{1396}{BW}{2,1}{1,2}{HB}{2,1,2,1}{3,1,1,3}
\Hi{129}{1364}{1396}{HX}{2,(7)}{3,(3)}{EX}{(2),(1),(1),(1)}{(1),(1),(1),(2)}
\node[fem,qm] (p28c) at (68,1464) {?}; \node[male,aff] (p28d) at (110,1464) {}; \node[fem,aff] (p28e) at (154,1464) {};
\sib{111}{p28a}{1442}{p28c,p28d,p28e}
\Mk{6}{1475}{1506}{\mAd}{\mC}
\Hi{58}{1475}{1506}{BX}{2,1}{3,3}{HE}{2,1,2,1}{2,1,1,1}
\Hi{102}{1475}{1506}{BX}{2,1}{3,3}{BX}{3,1,1,3}{1,1,1,2}
\Hi{149}{1475}{1506}{BX}{2,1}{3,3}{BX}{3,1,1,3}{1,1,1,3}

%% ================= P30
\node[lbx] (L30) at (338,1363) {P30};
\node[male,aff] (p30a) at (317,1384) {}; \node[fem] (p30b) at (364,1384) {};
\draw[ln] (p30a) -- (p30b);
\Mk{257}{1395}{1426}{\mAd}{\mC}
\Hi{309}{1395}{1426}{BW}{2,2}{3,3}{BV}{2,3,2,3}{1,2,2,1}
\Hi{356}{1395}{1426}{HX}{1,1}{4,2}{XE}{2,1,1,2}{2,1,3,1}
\node[male,aff] (p30c) at (296,1493) {}; \node[male,aff] (p30d) at (339,1493) {}; \node[male] (p30e) at (382,1493) {};
\sib{340}{p30a}{1472}{p30c,p30d,p30e}
\Mk{243}{1501}{1533}{\mAd}{\mC}
\Hi{288}{1501}{1533}{WH}{3,3}{1,1}{BX}{2,3,2,3}{2,1,1,2}
\Hi{334}{1501}{1533}{BX}{2,3}{4,2}{BX}{2,3,2,3}{2,1,1,2}
\Hi{376}{1501}{1533}{BX}{2,2}{4,2}{WE}{1,2,2,1}{2,1,3,1}

%% ================= P32
\node[lpl] (L32) at (527,1363) {(P32)};
\node[male] (p32a) at (500,1383) {}; \node[fem] (p32b) at (548,1383) {};
\draw[ln] (p32a) -- (p32b);
\Mk{442}{1394}{1423}{\mAd}{\mJ}
\Hi{494}{1394}{1423}{BW}{1,2}{3,2}{HX}{1,1,1,1}{3,3,3,2}
\Hi{541}{1394}{1423}{HX}{2,2}{1,1}{WE}{1,2,1,1}{1,4,2,1}
\node[fem,aff] (p32c) at (500,1492) {}; \node[fem,aff] (p32d) at (548,1492) {};
\sib{524}{p32a}{1471}{p32c,p32d}
\Mk{442}{1499}{1532}{\mAd}{\mJ}
\Hi{494}{1499}{1532}{BX}{1,2}{1,1}{XE}{3,3,3,2}{1,4,2,1}
\Hi{543}{1499}{1532}{BX}{1,2}{2,1}{XE}{3,3,3,3}{1,4,2,1}

%% ================= P39
\node[lbx] (L39) at (887,1080) {P39};
\node[male] (p39a) at (864,1101) {}; \node[fem,aff] (p39b) at (910,1101) {};
\draw[ln] (p39a) -- (p39b);
\Mk{804}{1108}{1138}{\mAd}{\mG}
\Hi{856}{1108}{1138}{LL}{2,1}{2,1}{HX}{2,1,2}{2,2,3}
\Hi{903}{1108}{1138}{EB}{4,2}{5,3}{WB}{1,1,2}{2,1,1}
\node[male,aff] (p39c) at (839,1195) {}; \node[fem] (p39d) at (885,1195) {}; \node[male,aff] (p39e) at (933,1195) {}; \node[fem] (p39f) at (979,1195) {};
\sib{887}{p39a}{1174}{p39c,p39e}
\draw[ln] (p39c) -- (p39d); \draw[ln] (p39e) -- (p39f);
\Mk{780}{1203}{1233}{\mAd}{\mG}
\Hi{834}{1203}{1233}{LB}{2,1}{5,3}{HB}{2,1,2}{2,1,1}
\Hi{878}{1203}{1233}{EX}{1,1}{3,1}{EH}{1,1,2}{2,1,2}
\Hi{926}{1203}{1233}{LB}{2,1}{5,3}{HB}{2,1,2}{2,1,1}
\Hi{972}{1203}{1233}{EE}{1,2}{3,1}{EE}{3,1,1}{4,1,2}
\node[male,aff] (p39g) at (862,1282) {}; \node[male,qm] (p39h) at (955,1282) {?};
\sib{862}{p39c}{1265}{p39g}
\sib{955}{p39e}{1265}{p39h}
\Mk{780}{1291}{1321}{\mAd}{\mG}
\Hi{856}{1291}{1321}{BW}{5,3}{1,1}{BE}{2,1,1}{1,1,2}
\Hi{950}{1291}{1321}{HW}{2,1}{1,2}{HW}{2,1,2}{4,1,2}

%% ================= P41
\node[lpl] (L41) at (707,1152) {(P41)};
\node[male,aff] (p41a) at (681,1168) {}; \node[fem] (p41b) at (729,1168) {};
\draw[ln] (p41a) -- (p41b);
\Mk{625}{1176}{1205}{\mAd}{\mF}
\Hi{675}{1176}{1205}{HB}{1,1}{1,1}{HB}{3,1,3,1}{3,3,1,2}
\Hi{721}{1176}{1205}{XW}{2,1}{3,1}{XW}{1,2,4,2}{2,3,2,1}
\node[male,aff] (p41c) at (681,1270) {}; \node[fem] (p41d) at (729,1270) {};
\sib{705}{p41a}{1250}{p41c,p41d}
\Mk{625}{1276}{1306}{\mAd}{\mF}
\Hi{672}{1276}{1306}{BX}{1,1}{2,1}{BX}{3,3,1,2}{1,2,4,2}
\Hi{721}{1276}{1306}{BW}{1,1}{3,1}{BX}{3,3,2,2}{1,2,2,2}

%% ================= P43
\node[lbx] (L43) at (1113,1127) {P43};
\node[male,aff] (p43a) at (1090,1147) {}; \node[fem] (p43b) at (1138,1147) {};
\draw[ln] (p43a) -- (p43b);
\Mk{1031}{1157}{1186}{\mAd}{\mF}
\Hi{1082}{1157}{1186}{LL}{2,1}{3,1}{HB}{2,1,3,1}{2,3,1,2}
\Hi{1128}{1157}{1186}{XX}{3,2}{4,2}{EW}{1,1,4,1}{3,1,2,2}
\node[fem] (p43c) at (1073,1250) {}; \node[male] (p43d) at (1116,1250) {}; \node[fem,aff] (p43e) at (1162,1250) {};
\sib{1114}{p43a}{1230}{p43c,p43e}
\draw[ln] (p43d) -- (p43e);
\Mk{1007}{1256}{1286}{\mAd}{\mF}
\Hi{1064}{1256}{1286}{LX}{2,1}{4,2}{HE}{2,1,3,1}{1,1,4,1}
\Hi{1110}{1256}{1286}{EW}{1,1}{4,1}{XE}{1,4,3,4}{2,1,5,1}
\Hi{1156}{1256}{1286}{LH}{2,1}{3,2}{BW}{2,3,1,3}{3,1,2,1}
\node[fem,aff] (p43f) at (1114,1358) {}; \node[fem] (p43g) at (1162,1358) {};
\sib{1138}{p43d}{1337}{p43f,p43g}
\Mk{1055}{1368}{1399}{\mAd}{\mF}
\Hi{1106}{1368}{1399}{LW}{1,1}{2,1}{XB}{1,4,3,4}{3,3,1,2}
\Hi{1155}{1368}{1399}{WH}{4,7}{3,7}{EX}{2,1,3,4}{3,1,2,1}

%% ================= P40
\node[lov] (L40) at (737,1374) {P40}; \node[draw,line width=.8pt,fit=(L40),inner sep=1pt] (L40b) {};
\node[male,aff] (p40a) at (713,1398) {}; \node[fem] (p40b) at (764,1398) {};
\draw[ln] (p40a) -- (p40b);
\Mk{657}{1406}{1437}{\mAd}{\mG}
\Hi{707}{1406}{1437}{WB}{2,2}{1,4}{WB}{1,1,4}{1,3,1}
\Hi{756}{1406}{1437}{HX}{3,1}{4,3}{HX}{1,2,2}{1,4,3}
\node[fem,aff] (p40c) at (693,1503) {}; \node[fem,aff] (p40d) at (738,1503) {}; \node[male,aff] (p40e) at (782,1503) {};
\sib{738}{p40a}{1482}{p40c,p40d,p40e}
\Mk{641}{1510}{1541}{\mAd}{\mG}
\Hi{686}{1510}{1541}{BH}{2,2}{3,1}{BH}{1,3,1}{1,2,2}
\Hi{732}{1510}{1541}{BH}{2,2}{4,3}{BH}{1,3,1}{1,2,2}
\Hi{780}{1510}{1541}{BH}{2,2}{4,3}{BH}{1,3,1}{1,2,2}

%% ================= P42
\node[lpl] (L42) at (941,1374) {\underline{P42}};
\node[male] (p42a) at (919,1398) {}; \node[fem,aff] (p42b) at (967,1398) {};
\draw[ln] (p42a) -- (p42b);
\Mk{861}{1407}{1439}{\mAd}{\mF}
\Hi{911}{1407}{1439}{EX}{1,1}{4,1}{EX}{1,1,1,1}{1,1,3,1}
\Hi{960}{1407}{1439}{XB}{2,3}{3,2}{EB}{2,1,2,1}{1,2,3,2}
\node[fem] (p42c) at (917,1503) {}; \node[male,aff] (p42d) at (965,1503) {};
\sib{942}{p42a}{1482}{p42c,p42d}
\Mk{861}{1510}{1543}{\mAd}{\mF}
\Hi{909}{1510}{1543}{XB}{1,1}{3,2}{XB}{1,1,3,1}{1,2,3,2}
\Hi{957}{1510}{1543}{WB}{1,1}{3,2}{XB}{1,1,3,1}{1,2,3,2}

%% ================= P44
\def\ra{15}\def\rb{8.3}
\node[lpl] (L44) at (154,1597) {(P44)};
\node[fem] (p44a) at (77,1620) {}; \node[male] (p44b) at (174,1620) {}; \node[fem] (p44c) at (244,1620) {};
\draw[ln] (p44a) -- (p44b) -- (p44c);
\draw[ln] (115,1628) -- (125,1612);
\Mk{4}{1632.5}{1664}{\mAd}{\mF}
\Hi{71}{1632.5}{1664}{HE}{(1),(1)}{(2),(2)}{WK}{(1),(4),(2),(1)}{(7),(7),(7),(7)}
\Hi{166}{1632.5}{1664}{BW}{1,1}{3,2}{BX}{2,2,1,1}{2,1,2,3}
\Hi{236}{1632.5}{1664}{WX}{2,2}{2,3}{HE}{1,1,1,1}{2,3,3,2}
\node[male] (p44d) at (95,1740) {}; \node[male,aff] (p44e) at (147,1740) {}; \node[fem,aff] (p44f) at (207,1740) {};
\sib{120}{p44a}{1715}{p44d,p44e}
\sib{207}{p44b}{1715}{p44f}
\Mk{27}{1751}{1786}{\mAd}{\mF}
\Hi{85}{1751}{1786}{BH}{1,1}{1,2}{BW}{2,3,1,1}{1,4,2,1}
\Hi{137}{1751}{1786}{WE}{3,2}{2,2}{BW}{2,2,1,1}{1,4,2,1}
\Hi{201}{1751}{1786}{BX}{1,1}{2,3}{BE}{2,2,1,1}{2,3,3,2}

%% ================= P45
\def\ra{17}\def\rb{8.5}
\node[lpl] (L45) at (451,1597) {(P45)};
\node[male] (p45a) at (427,1620) {}; \node[fem] (p45b) at (477,1620) {};
\draw[ln] (p45a) -- (p45b);
\Mk{359}{1625}{1663}{\mAd}{\mF}
\Hi{421}{1625}{1663}{BW}{2,2}{3,1}{EE}{1,1,1,1}{2,3,1,3}
\Hi{471}{1625}{1663}{HE}{1,2}{4,1}{HB}{3,1,1,2}{2,2,2,2}
\node[male,aff] (p45c) at (367,1733) {}; \node[fem,aff] (p45d) at (423,1733) {}; \node[fem] (p45e) at (475,1733) {};
\node[male,aff] (p45f) at (530,1733) {}; \node[fem] (p45g) at (581,1733) {};
\sib{450}{p45a}{1710}{p45c,p45d,p45e,p45f}
\draw[ln] (p45f) -- (p45g);
\Mk{307}{1744}{1778}{\mAd}{\mF}
\Hi{361}{1744}{1778}{BH}{2,2}{1,1}{EB}{1,1,1,1}{2,2,2,2}
\Hi{413}{1744}{1778}{WE}{3,1}{4,1}{EB}{1,1,1,1}{2,2,2,2}
\Hi{463}{1744}{1778}{BH}{2,1}{1,2}{WB}{2,3,1,3}{2,2,2,3}
\Hi{515}{1744}{1778}{WE}{3,1}{4,1}{WB}{2,3,1,3}{3,2,2,2}
\Hi{570}{1744}{1778}{XK}{5,1}{6,2}{XK}{3,3,1,2}{1,4,2,1}
\node[male,aff] (p45h) at (557,1837) {};
\sib{557}{p45f}{1820}{p45h}
\def\ra{18}\def\rb{7}
\Mk{481}{1855}{1893}{\mAd}{\mG}
\Hi{539}{1855}{1893}{EK}{4,1}{5,1}{BK}{2,2,2}{1,4,2}

%% ================= P46
\def\ra{17}\def\rb{9.3}
\node[lbx] (L46) at (725,1605) {P46};
\node[male,aff] (p46a) at (701,1629) {}; \node[fem] (p46b) at (756,1629) {};
\draw[ln] (p46a) -- (p46b);
\Mk{638}{1636.5}{1672.5}{\mAd}{\mF}
\Hi{694}{1636.5}{1672.5}{WB}{3,3}{4,1}{BW}{2,1,2,1}{3,2,2,2}
\Hi{745}{1636.5}{1672.5}{HX}{2,1}{1,1}{HX}{(1),(4),(1),(3)}{(7),(3),(2),(7)}
\node[fem,aff] (p46c) at (700,1743) {}; \node[fem] (p46d) at (753,1743) {};
\sib{727}{p46a}{1722}{p46c,p46d}
\Mk{638}{1750.5}{1790}{\mAd}{\mF}
\Hi{692}{1750.5}{1790}{BH}{4,1}{2,1}{BX}{2,1,2,1}{3,3,2,2}
\Hi{745}{1750.5}{1790}{WH}{3,3}{2,1}{WH}{3,2,2,2}{1,4,1,3}

%% ================= P47
\def\ra{16}\def\rb{10.5}
\node[lpl] (L47) at (909,1605) {(P47)};
\node[male] (p47a) at (880,1630) {}; \node[fem] (p47b) at (935,1630) {};
\draw[ln] (p47a) -- (p47b);
\Mk{815}{1641}{1674}{\mAd}{\mG}
\Hi{872}{1641}{1674}{BW}{2,2}{4,2}{BH}{2,2,2}{2,2,3}
\Hi{926}{1641}{1674}{HX}{1,1}{3,3}{XE}{2,3,2}{3,1,4}
\node[fem,aff] (p47c) at (878,1746) {}; \node[male,aff] (p47d) at (934,1746) {};
\sib{907}{p47a}{1723}{p47c,p47d}
\Mk{815}{1758}{1794}{\mAd}{\mG}
\Hi{869}{1758}{1794}{BH}{2,2}{1,1}{BX}{2,2,2}{2,3,2}
\Hi{925}{1758}{1794}{BX}{2,2}{3,3}{BX}{2,2,2}{2,3,2}

%% ================= P49
\node[lpl] (L49) at (1084,1607) {\underline{P49}};
\node[male,aff] (p49a) at (1057,1631) {}; \node[fem] (p49b) at (1111,1631) {};
\draw[ln] (p49a) -- (p49b);
\Mk{992}{1643}{1679}{\mAd}{\mG}
\Hi{1049}{1643}{1679}{BW}{1,2}{2,1}{BH}{1,1,1}{2,2,3}
\Hi{1101}{1643}{1679}{HX}{1,2}{2,3}{EX}{1,2,2}{2,2,1}
\node[male,aff] (p49c) at (1054,1747) {}; \node[male,aff] (p49d) at (1110,1747) {};
\sib{1083}{p49a}{1724}{p49c,p49d}
\Mk{992}{1760}{1800}{\mAd}{\mG}
\Hi{1049}{1760}{1800}{WX}{2,1}{2,3}{BX}{1,1,1}{2,2,1}
\Hi{1101}{1760}{1800}{BH}{1,2}{1,2}{HX}{2,2,3}{1,2,1}

%% ================= P48
\node[lbx] (L48) at (1256,1605) {P48};
\node[male] (p48a) at (1229,1630) {}; \node[fem,aff] (p48b) at (1284,1630) {};
\draw[ln] (p48a) -- (p48b);
\Mk{1167}{1642}{1678}{\mAd}{\mK}
\Hi{1224}{1642}{1678}{WB}{1,4}{2,2}{HX}{3,2,1}{2,2,3}
\Hi{1276}{1642}{1678}{HX}{3,3}{4,1}{BE}{1,1,1}{2,2,2}
\node[male,aff] (p48c) at (1228,1747) {}; \node[male,aff] (p48d) at (1284,1747) {};
\sib{1256}{p48a}{1723}{p48c,p48d}
\Mk{1167}{1759}{1798}{\mAd}{\mK}
\Hi{1221}{1759}{1798}{BH}{2,2}{3,3}{XB}{2,2,3}{1,1,1}
\Hi{1276}{1759}{1798}{BX}{2,2}{4,1}{XB}{2,2,3}{1,1,1}
\end{tikzpicture}
\end{document}
